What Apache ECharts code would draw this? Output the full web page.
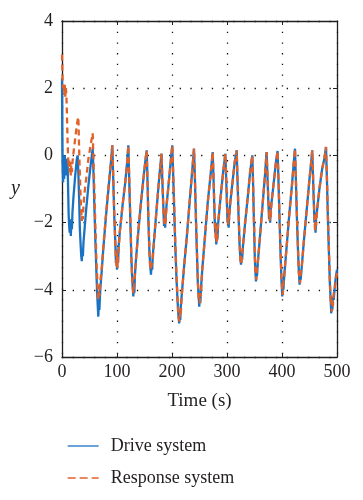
<!DOCTYPE html>
<html><head><meta charset="utf-8">
<script src="https://cdn.jsdelivr.net/npm/echarts@6/dist/echarts.min.js"></script>
<style>html,body{margin:0;padding:0;background:#fff}#c{width:363px;height:500px}</style>
</head><body><div id="c"></div>
<script>
const timeS = [
0,0.5,1,2,3,4,5,6,7,8,
9,10,11,12,13,14,15,16,17,18,
19,21,24,27,28.5,29.7,31,32.5,34,35,
36,37,38,39,41,44,48,52,55.8,57,
59,61,63,64.5,66,67,68,69,70,72,
75,80,85,89,91.5,93,95,97,98,99,
100,101,102,103,105,110,115,119,120.6,122,
124,126,127.5,128.5,129.7,130.5,131.5,132.5,134,138,
143,148,152,154,155.5,157,159,160.5,161.8,163,
164,165,168,172,176,180,181,182.5,184,185.5,
186.5,187.5,188.5,190,193,197,200.5,202,204,206,
208,210,211.5,213,214,215,216,218,222,227,
232,236,240,241.5,243.5,245.5,247,248.5,249.6,250.5,
251.5,252.5,255,260,265,270,274,275.5,277,278.5,
279.5,280.5,281.5,282.5,284,288,293,297,298.5,300,
301,302,303,304,306,310,314,317.6,319,321,
323,324.5,325.5,326.5,327.5,329,333,338,342,346,
347.5,349,350.5,351.5,352.7,353.5,354.5,356,360,365,
369,372,373.5,375,376.5,377.5,378.5,379.5,381,385,
389,392,393.5,395.5,397.5,399,400.5,401.5,402.5,404,
408,413,418,421,423.6,425,427,429,430.5,432,
433,434,436,440,445,450,453,455,456.5,458,
459,460,461,462,464,468,473,477,480,481.5,
483.5,485.5,487,488.5,489.5,490.5,491.5,492.5,494,496,
498,500];
const driveY = [
2.3,0.6,-0.2,-0.8,-0.3,-0.7,0.0,-0.5,-0.1,-0.6,
-0.2,-0.1,-0.9,-1.7,-2.1,-2.3,-1.9,-2.4,-2.0,-2.2,
-1.7,-1.2,-0.6,-0.1,0.0,-0.5,-1.2,-2.2,-2.7,-3.0,
-3.15,-2.8,-3.0,-2.6,-2.2,-1.6,-0.9,-0.3,0.2,-0.4,
-1.6,-2.7,-3.7,-4.3,-4.8,-4.4,-4.6,-4.2,-3.9,-3.5,
-2.8,-1.8,-0.9,-0.2,0.3,-0.6,-1.8,-2.6,-3.2,-2.8,
-3.4,-2.9,-3.2,-2.7,-2.3,-1.5,-0.8,-0.1,0.3,-0.6,
-1.8,-3.0,-3.6,-3.9,-4.2,-3.8,-4.1,-3.6,-3.2,-2.4,
-1.5,-0.7,-0.1,0.15,-0.8,-1.9,-2.9,-3.3,-3.55,-3.2,
-3.4,-3.0,-2.4,-1.6,-0.8,-0.1,0.05,-0.8,-1.4,-2.1,
-1.7,-2.15,-1.8,-1.5,-1.0,-0.3,0.3,-0.5,-1.6,-2.7,
-3.6,-4.3,-4.7,-5.0,-4.7,-4.9,-4.5,-4.1,-3.3,-2.4,
-1.4,-0.6,0.2,-0.6,-1.9,-3.0,-3.8,-4.2,-4.5,-4.1,
-4.4,-4.0,-3.4,-2.4,-1.4,-0.6,0.1,-0.7,-1.6,-2.3,
-2.0,-2.65,-2.2,-2.5,-2.0,-1.3,-0.5,0.05,-0.7,-1.5,
-2.0,-1.7,-2.15,-1.8,-1.4,-0.8,-0.2,0.15,-0.7,-1.8,
-2.7,-3.1,-3.25,-2.9,-3.1,-2.7,-2.0,-1.2,-0.5,0.0,
-0.9,-2.0,-3.0,-3.4,-3.75,-3.4,-3.6,-3.2,-2.4,-1.4,
-0.6,0.1,-0.6,-1.3,-1.9,-1.5,-2.0,-1.6,-1.4,-0.8,
-0.2,0.13,-0.7,-1.9,-3.0,-3.7,-4.2,-3.8,-4.0,-3.6,
-2.8,-1.8,-0.9,-0.3,0.2,-0.6,-1.8,-2.8,-3.4,-3.85,
-3.5,-3.7,-3.3,-2.5,-1.6,-0.7,-0.2,0.15,-0.7,-1.5,
-2.0,-1.7,-2.3,-1.9,-1.6,-1.0,-0.4,-0.1,0.25,-0.6,
-1.9,-3.0,-3.8,-4.3,-4.7,-4.4,-4.6,-4.2,-4.3,-3.9,
-3.6,-3.4];
const responseY = [
3.0,2.7,2.3,2.0,2.15,1.8,2.1,1.75,2.0,1.8,
1.2,0.5,0.0,-0.35,-0.1,-0.5,-0.2,-0.6,-0.3,-0.5,
-0.2,0.1,0.5,0.9,1.05,1.14,0.3,-0.6,-1.3,-1.7,
-1.95,-1.6,-1.9,-1.5,-1.1,-0.7,-0.1,0.3,0.66,0.0,
-1.1,-2.3,-3.3,-3.8,-4.3,-4.0,-4.2,-3.9,-3.7,-3.4,
-2.75,-1.75,-0.85,-0.15,0.3,-0.5,-1.7,-2.7,-3.0,-3.3,
-2.9,-3.35,-3.0,-2.8,-2.3,-1.5,-0.8,-0.1,0.3,-0.5,
-1.7,-2.9,-3.7,-3.7,-4.1,-4.0,-3.8,-3.8,-3.2,-2.4,
-1.5,-0.7,-0.1,0.15,-0.7,-1.8,-2.8,-3.4,-3.4,-3.45,
-3.2,-3.1,-2.4,-1.6,-0.8,-0.1,0.05,-0.7,-1.5,-1.9,
-2.1,-1.7,-2.0,-1.5,-1.0,-0.3,0.3,-0.4,-1.5,-2.6,
-3.5,-4.2,-4.8,-4.85,-4.95,-4.6,-4.7,-4.1,-3.3,-2.4,
-1.4,-0.6,0.2,-0.5,-1.8,-2.9,-3.7,-4.3,-4.3,-4.4,
-4.1,-4.2,-3.4,-2.4,-1.4,-0.6,0.1,-0.6,-1.5,-2.2,
-2.5,-2.1,-2.6,-2.3,-2.0,-1.3,-0.5,0.05,-0.6,-1.4,
-1.8,-2.1,-1.75,-1.9,-1.4,-0.8,-0.2,0.15,-0.6,-1.7,
-2.6,-3.2,-3.0,-3.2,-2.9,-2.7,-2.0,-1.2,-0.5,0.0,
-0.8,-1.9,-2.9,-3.5,-3.55,-3.7,-3.35,-3.2,-2.4,-1.4,
-0.6,0.1,-0.5,-1.2,-1.7,-1.95,-1.6,-1.85,-1.4,-0.8,
-0.2,0.13,-0.6,-1.8,-2.9,-3.6,-4.0,-4.15,-3.8,-3.6,
-2.8,-1.8,-0.9,-0.3,0.2,-0.5,-1.7,-2.7,-3.5,-3.6,
-3.8,-3.45,-3.3,-2.5,-1.6,-0.7,-0.2,0.15,-0.6,-1.4,
-1.8,-2.25,-1.8,-2.1,-1.6,-1.0,-0.4,-0.1,0.25,-0.5,
-1.8,-2.9,-3.7,-4.4,-4.3,-4.65,-4.3,-4.5,-4.1,-4.0,
-3.7,-3.5];
const xTicks = {min: 0, max: 500, step: 100};
const yTicks = {min: -6, max: 4, step: 2};
const seriesNames = ['Drive system', 'Response system'];

if (timeS.length !== driveY.length || timeS.length !== responseY.length) {
  throw new Error('length mismatch ' + timeS.length + ' ' + driveY.length + ' ' + responseY.length);
}

const FONT = '"Liberation Serif", "DejaVu Serif", serif';
const INK = '#231f20';
const BLUE = '#1a72c2';
const ORANGE = '#e0622a';
const fmt = v => (v < 0 ? '\u2212' + Math.abs(v) : String(v));
const grid = {left: 62, right: 26, top: 21, bottom: 143};
const dotted = {show: true, lineStyle: {color: '#111', width: 1.3, type: [1.3, 9.4]}};

const chart = echarts.init(document.getElementById('c'), null, {renderer: 'canvas'});
chart.setOption({
  animation: false,
  backgroundColor: '#fff',
  grid: grid,
  legend: {
    orient: 'vertical', left: 62, top: 432,
    itemWidth: 31, itemHeight: 18, itemGap: 14,
    textStyle: {fontFamily: FONT, fontSize: 18, color: INK, padding: [0, 0, 0, 7]},
    itemStyle: {opacity: 0, borderWidth: 0},
    lineStyle: {width: 1.3},
    data: [
      {name: seriesNames[0]},
      {name: seriesNames[1], lineStyle: {type: [8, 4], width: 1.3}}
    ]
  },
  xAxis: [{
    type: 'value', min: xTicks.min, max: xTicks.max, interval: xTicks.step,
    name: 'Time (s)', nameLocation: 'middle', nameGap: 35,
    nameTextStyle: {fontFamily: FONT, fontSize: 19, color: INK},
    axisLine: {show: true, onZero: false, lineStyle: {color: INK, width: 1.3}},
    axisTick: {show: true, inside: true, length: 4, lineStyle: {color: INK}},
    axisLabel: {fontFamily: FONT, fontSize: 18, color: INK, margin: 6},
    splitLine: dotted
  }, {
    type: 'value', position: 'top', min: xTicks.min, max: xTicks.max, interval: xTicks.step,
    axisLine: {show: true, onZero: false, lineStyle: {color: INK, width: 1.3}},
    axisTick: {show: true, inside: true, length: 4, lineStyle: {color: INK}},
    axisLabel: {show: false}, splitLine: {show: false}
  }],
  yAxis: [{
    type: 'value', min: yTicks.min, max: yTicks.max, interval: yTicks.step,
    name: 'y', nameLocation: 'middle', nameGap: 42, nameRotate: 0,
    nameTextStyle: {fontFamily: FONT, fontSize: 20, fontStyle: 'italic', color: INK, padding: [6, 0, 0, 0]},
    axisLine: {show: true, onZero: false, lineStyle: {color: INK, width: 1.3}},
    axisTick: {show: true, inside: true, length: 4, lineStyle: {color: INK}},
    axisLabel: {fontFamily: FONT, fontSize: 18, color: INK, margin: 9, formatter: fmt},
    splitLine: dotted
  }, {
    type: 'value', position: 'right', min: yTicks.min, max: yTicks.max, interval: yTicks.step,
    axisLine: {show: true, onZero: false, lineStyle: {color: INK, width: 1.3}},
    axisTick: {show: true, inside: true, length: 4, lineStyle: {color: INK}},
    axisLabel: {show: false}, splitLine: {show: false}
  }],
  series: [{
    name: seriesNames[0], type: 'line', showSymbol: false, symbol: 'none',
    data: timeS.map((t, i) => [t, driveY[i]]),
    lineStyle: {color: BLUE, width: 2.3}, itemStyle: {color: BLUE}, z: 2
  }, {
    name: seriesNames[1], type: 'line', showSymbol: false, symbol: 'none',
    data: timeS.map((t, i) => [t, responseY[i]]),
    lineStyle: {color: ORANGE, width: 2.3, type: [6, 4]}, itemStyle: {color: ORANGE}, z: 3
  }]
});
</script></body></html>
